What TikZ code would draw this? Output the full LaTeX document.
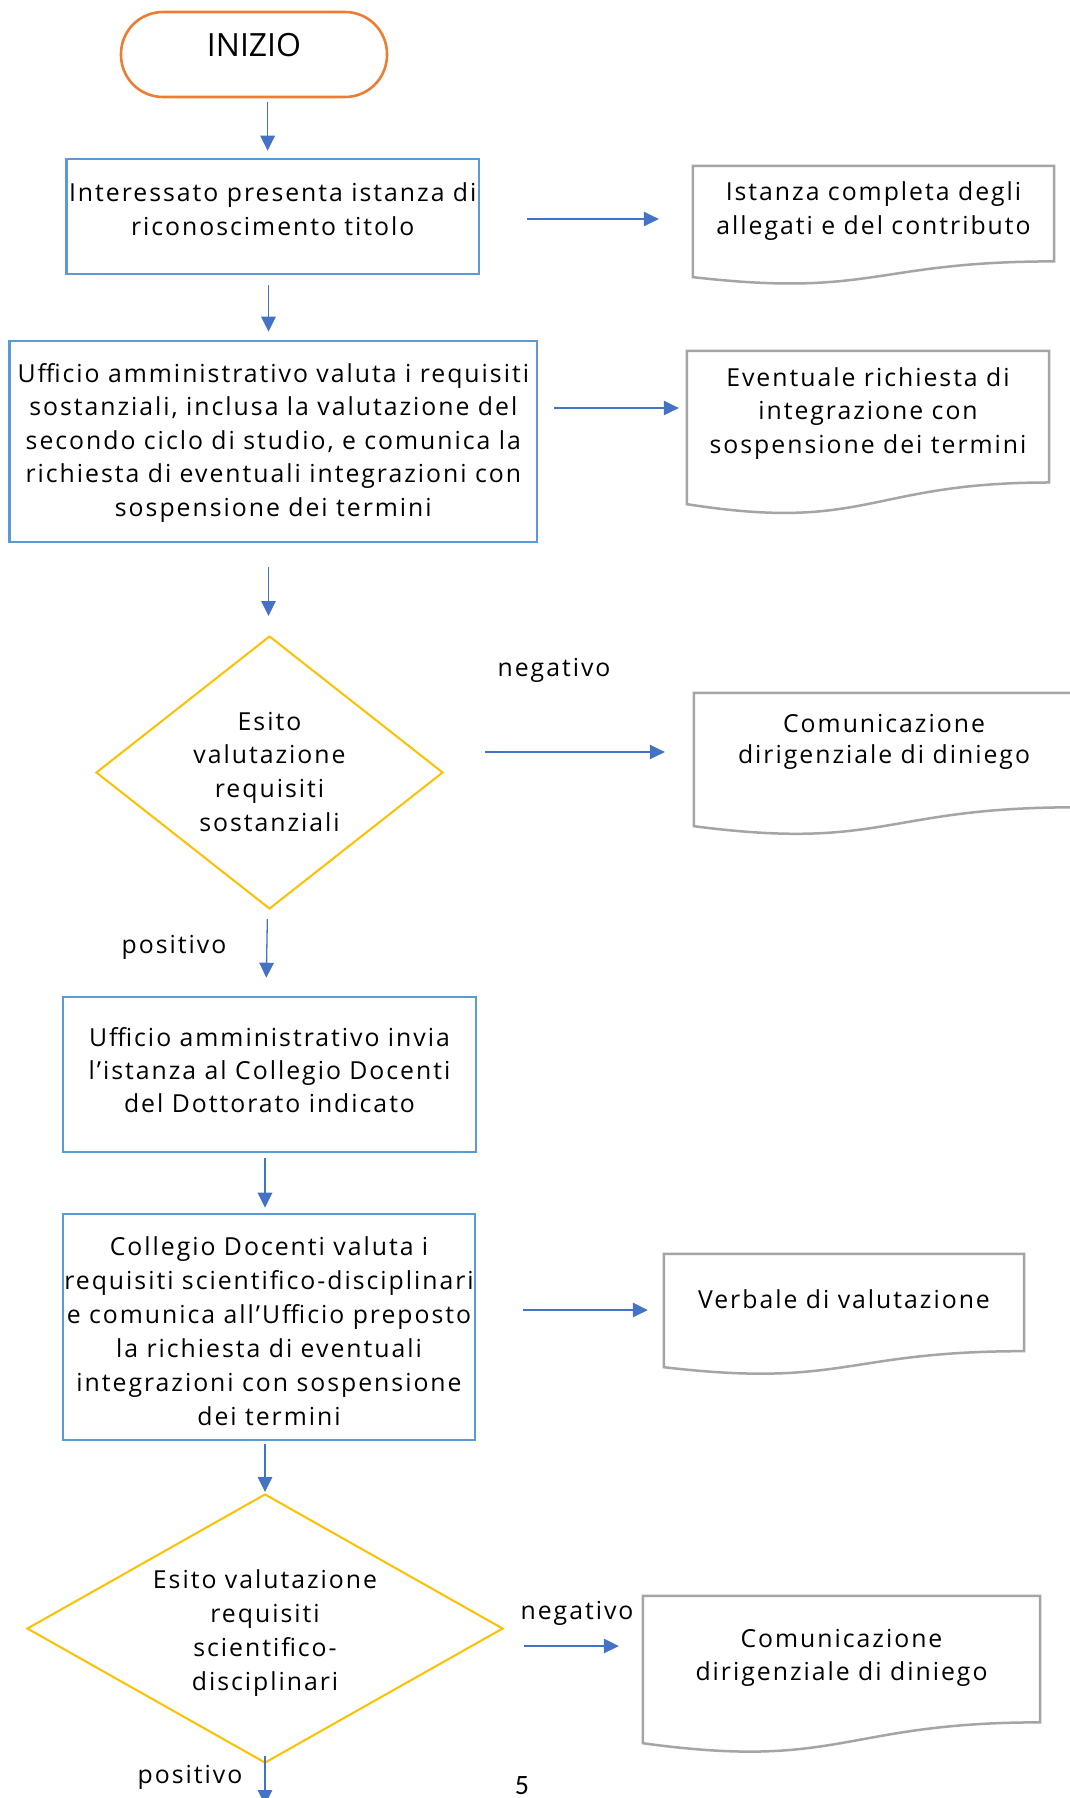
\documentclass[tikz,border=0pt]{standalone}
\usepackage{fontspec}
\setmainfont{Open Sans}[LetterSpace=8]
\newfontfamily\plainfont{Open Sans}
\newfontfamily\pagenumfont{Carlito}
\usetikzlibrary{shapes.geometric,arrows.meta,calc}

\definecolor{boxblue}{HTML}{5B9BD5}
\definecolor{arrowblue}{HTML}{4472C4}
\definecolor{docgray}{HTML}{A5A5A5}
\definecolor{termorange}{HTML}{ED7D31}
\definecolor{diagold}{HTML}{FFC000}

\newcommand\mainfs{24.8}
% width, height, first baseline offset, baselineskip, text
\newcommand\tbox[5]{\parbox[c][#2][t]{#1}{\centering\fontsize{\mainfs}{#4}\selectfont\rule{0pt}{#3}#5}}
% width, raise of first baseline above centre, baselineskip, text
\newcommand\dtext[4]{\makebox[0pt]{\smash{\raisebox{#2}{\parbox[t]{#1}{\centering\fontsize{\mainfs}{#3}\selectfont #4}}}}}
\newcommand\docoutline[1]{%
  \draw[docline] let \p1=(#1.north west), \p2=(#1.south east) in
  (\x1,\y1) -- (\x2,\y1) -- (\x2,{\y1+0.802*(\y2-\y1)})
  .. controls ({0.5*(\x1+\x2)},{\y1+0.802*(\y2-\y1)}) and ({0.5*(\x1+\x2)},{\y1+1.1075*(\y2-\y1)}) ..
  (\x1,{\y1+0.934*(\y2-\y1)}) -- cycle;}

\tikzset{
  terminal/.style={draw=termorange, line width=2.6pt, rounded corners=42pt, inner sep=0pt},
  procbox/.style={draw=boxblue, line width=2.6pt, inner sep=0pt, rectangle},
  docnode/.style={inner sep=0pt, rectangle},
  docline/.style={draw=docgray, line width=2.5pt},
  decision/.style={diamond, draw=diagold, line width=2pt, inner sep=0pt},
  arr/.style={draw=arrowblue, line width=1.3pt, -{Triangle[length=15pt,width=14.5pt]}},
  lbl/.style={inner sep=0pt, anchor=base, font=\fontsize{\mainfs}{30}\selectfont},
}

\begin{document}
\begin{tikzpicture}[x=1pt,y=-1pt]
\path[fill=white,use as bounding box] (0,0) rectangle (1070,1798);

% main column
\node[terminal] (start) at (254,54.5)
  {\parbox[c][85pt][t]{266pt}{\centering\plainfont\fontsize{32}{36}\selectfont\rule{0pt}{44.5pt}INIZIO}};
\node[procbox] (b1) at (272.75,216.5)
  {\tbox{412.5pt}{115pt}{42pt}{34pt}{Interessato presenta istanza di\\riconoscimento titolo}};
\node[procbox] (b2) at (273.3,441.5)
  {\tbox{527.4pt}{201pt}{41.5pt}{33.4pt}{Ufficio amministrativo valuta i requisiti\\sostanziali, inclusa la valutazione del\\secondo ciclo di studio, e comunica la\\richiesta di eventuali integrazioni con\\sospensione dei termini}};
\node[decision, minimum width=347pt, minimum height=273pt] (d1) at (269.5,772.5)
  {\dtext{200pt}{42.5pt}{33.7pt}{Esito\\valutazione\\requisiti\\sostanziali}};
\node[procbox] (b3) at (269.5,1074.5)
  {\tbox{413pt}{155pt}{49pt}{33pt}{Ufficio amministrativo invia\\l’istanza al Collegio Docenti\\del Dottorato indicato}};
\node[procbox] (b4) at (269,1327)
  {\tbox{412pt}{226pt}{41pt}{34pt}{Collegio Docenti valuta i\\requisiti scientifico-disciplinari\\e comunica all’Ufficio preposto\\la richiesta di eventuali\\integrazioni con sospensione\\dei termini}};
\node[decision, minimum width=476pt, minimum height=269pt] (d2) at (265,1628.5)
  {\dtext{260pt}{40.5pt}{34pt}{Esito valutazione\\requisiti\\scientifico-\\disciplinari}};

% documents
\node[docnode] (o1) at (873.5,225.4)
  {\tbox{361pt}{118.8pt}{35pt}{34pt}{Istanza completa degli\\allegati e del contributo}};
\node[docnode] (o2) at (868,432.9)
  {\tbox{362pt}{163.8pt}{35pt}{33.5pt}{Eventuale richiesta di\\integrazione con\\sospensione dei termini}};
\node[docnode] (o3) at (884,764.2)
  {\tbox{380pt}{142.4pt}{39pt}{31pt}{Comunicazione\\dirigenziale di diniego}};
\node[docnode] (o4) at (844,1314.5)
  {\tbox{360pt}{121pt}{54pt}{33pt}{Verbale di valutazione}};
\node[docnode] (o5) at (841.5,1674.7)
  {\tbox{397pt}{157.4pt}{51pt}{33pt}{Comunicazione\\dirigenziale di diniego}};
\docoutline{o1}
\docoutline{o2}
\docoutline{o3}
\docoutline{o4}
\docoutline{o5}

% labels
\node[lbl] (neg1) at (554,676) {negativo};
\node[lbl] (pos1) at (174,953) {positivo};
\node[lbl] (neg2) at (577,1619) {negativo};
\node[lbl] (pos2) at (190,1783) {positivo};
\node[inner sep=0pt, anchor=base, font=\pagenumfont\fontsize{28}{30}\selectfont] (pnum) at (522,1794.5) {5};

% helper coordinates
\coordinate (c1) at (267.6,0);
\coordinate (c2) at (268.5,0);
\coordinate (c3a) at (267.5,0);
\coordinate (c3b) at (266,0);
\coordinate (c4) at (265,0);
\coordinate (r1) at (0,219);
\coordinate (r2) at (0,408);
\coordinate (r3) at (0,752);
\coordinate (r4) at (0,1310);
\coordinate (r5) at (0,1646);
\coordinate (out) at (265,1805);

% vertical connectors
\draw[arr, shorten <=4pt, shorten >=7pt] (start.south -| c1) -- (b1.north -| c1);
\draw[arr, shorten <=10pt, shorten >=8pt] (b1.south -| c2) -- (b2.north -| c2);
\draw[arr, shorten <=24pt, shorten >=19pt] (b2.south -| c2) -- (d1.north -| c2);
\draw[arr, shorten <=9pt, shorten >=18pt] (d1.south -| c3a) -- (b3.north -| c3b);
\draw[arr, shorten <=5pt, shorten >=5pt] (b3.south -| c4) -- (b4.north -| c4);
\draw[arr, shorten <=3pt, shorten >=1pt] (b4.south -| c4) -- (d2.north -| c4);
\draw[arr, shorten <=-8pt] (d2.south) -- (out);

% horizontal connectors
\draw[arr, shorten <=47pt, shorten >=34pt] (b1.east |- r1) -- (o1.west |- r1);
\draw[arr, shorten <=16pt, shorten >=8pt] (b2.east |- r2) -- (o2.west |- r2);
\draw[arr, shorten <=41pt, shorten >=29pt] (d1.east |- r3) -- (o3.west |- r3);
\draw[arr, shorten <=47pt, shorten >=16pt] (b4.east |- r4) -- (o4.west |- r4);
\draw[arr, shorten <=20pt, shorten >=24pt] (d2.east |- r5) -- (o5.west |- r5);
\end{tikzpicture}
\end{document}
